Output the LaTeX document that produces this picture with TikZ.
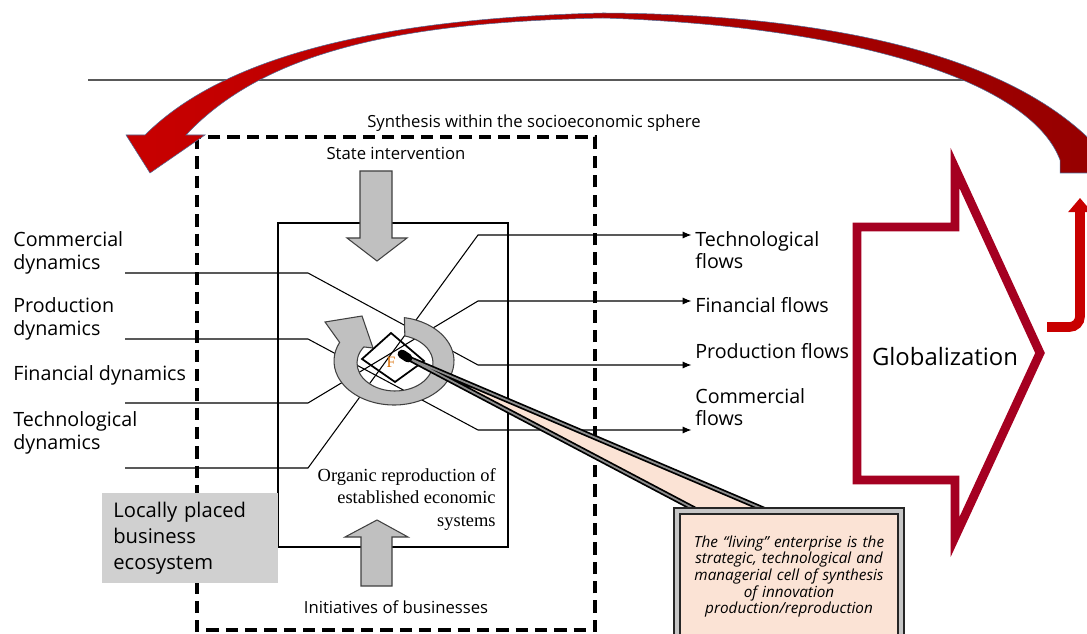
\documentclass[tikz,border=0pt]{standalone}
\usepackage{fontspec}
\setmainfont{Open Sans}
\newfontfamily\romanfont{Liberation Serif}
\usetikzlibrary{calc, arrows.meta}
\definecolor{globred}{HTML}{A50021}
\definecolor{arcred}{HTML}{C80000}
\definecolor{arcdark}{HTML}{960000}
\definecolor{arcedge}{HTML}{4F6B96}
\definecolor{cellfill}{HTML}{FBE3D5}
\definecolor{blockgray}{HTML}{C0C0C0}
\definecolor{ecogray}{HTML}{D0D0D0}
\tikzstyle{dynlabel} = [anchor=west, align=left, inner sep=0pt, font=\fontsize{11.2}{12.8}\selectfont]
\tikzstyle{smalltext} = [inner sep=0pt, font=\fontsize{9.5}{11}\selectfont]
\tikzstyle{flowarrow} = [line width=0.6pt, -{Latex[length=5pt,width=4pt]}, shorten >=2pt]
\tikzstyle{blockarrow} = [fill=blockgray, draw=black!75, line width=0.6pt]

\begin{document}
\begin{tikzpicture}[x=0.02cm, y=-0.02cm]
    \useasboundingbox (0,0) rectangle (1087,634);
    \clip (0,0) rectangle (1087,634);

    % horizon
    \coordinate (hl) at (88,80);
    \coordinate (hr) at (985,80);
    \draw [line width=0.9pt, black!65] (hl) -- (hr);

    % socioeconomic sphere and the reproduction box
    \draw [line width=2pt, dash pattern=on 7pt off 4pt] (197,137) rectangle (595,630);
    \draw [line width=0.6pt] (278,223) rectangle (508,547);

    \node (synth) [smalltext] at (534,123) {Synthesis within the socioeconomic sphere};
    \node (state) [smalltext] at (396,153) {State intervention};
    \node (init) [smalltext] at (396,607) {Initiatives of businesses};
    \node (organic) [anchor=north east, align=right, inner sep=0pt, font=\romanfont\fontsize{10.5}{12.75}\selectfont] at (496,468) {Organic reproduction of\\established economic\\systems};

    \node (cdyn) [dynlabel] at (13,253) {Commercial\\dynamics};
    \node (pdyn) [dynlabel] at (13,319) {Production\\dynamics};
    \node (fdyn) [dynlabel] at (13,375) {Financial dynamics};
    \node (tdyn) [dynlabel] at (13,433) {Technological\\dynamics};

    \node (tflow) [dynlabel] at (695,250) {Technological\\flows};
    \node (fflow) [dynlabel] at (695,305) {Financial flows};
    \node (pflow) [dynlabel] at (695,351) {Production flows};
    \node (cflow) [dynlabel] at (695,407) {Commercial\\flows};

    % gray block arrows
    \draw [blockarrow] (360,171) -- (392,171) -- (392,238) -- (407,238) -- (377,261) -- (347,238) -- (360,238) -- cycle;
    \draw [blockarrow] (361,586) -- (392,586) -- (392,537) -- (408,537) -- (377,520) -- (345,537) -- (361,537) -- cycle;

    % dynamics become flows
    \coordinate (a1) at (125,273); \coordinate (b1) at (308,273); \coordinate (e1) at (478,365);
    \coordinate (a2) at (125,339); \coordinate (b2) at (308,339); \coordinate (e2) at (478,430);
    \coordinate (a3) at (125,403); \coordinate (b3) at (308,403); \coordinate (e3) at (478,301);
    \coordinate (a4) at (125,468); \coordinate (b4) at (308,468); \coordinate (e4) at (478,235);
    \draw [flowarrow] (a1) -- (b1) -- (e1) -- (e1 -| pflow.west);
    \draw [flowarrow] (a2) -- (b2) -- (e2) -- (e2 -| cflow.west);
    \draw [flowarrow] (a3) -- (b3) -- (e3) -- (e3 -| fflow.west);
    \draw [flowarrow] (a4) -- (b4) -- (e4) -- (e4 -| tflow.west);

    % circular arrow round the cell
    \coordinate (ro) at (394,361);
    \coordinate (ri) at (395,363);
    \path [blockarrow] ($(ro)+(-80:60 and 44)$) arc [start angle=-80, end angle=205, x radius=60, y radius=44]
        -- (325,322) -- (362,316) -- (373,348) -- ($(ri)+(215:38 and 28)$)
        arc [start angle=215, end angle=-75, x radius=38, y radius=28] -- cycle;
    \draw [line width=1pt] (362,359) -- (391,333) -- (424,361) -- (395,382) -- cycle;
    \node (cellF) [inner sep=0pt, text=orange!85!black, font=\romanfont\fontsize{9}{9}\selectfont] at (391,362) {F};

    % callout
    \coordinate (pen) at (408,358);
    \draw [fill=cellfill, draw=black, double=black!45, double distance=1pt, line width=1pt] (pen) -- (700,512) -- (770,512) -- cycle;
    \draw [line width=5pt, line cap=round] (402,354) -- (pen);
    \node (cell) [anchor=north west, fill=cellfill, draw=black!85, double=gray!45, double distance=2pt, line width=1.2pt,
        inner sep=0pt, minimum height=2.62cm, text width=4.48cm, align=center,
        font=\itshape\fontsize{8.7}{9.5}\selectfont] at (676,510)
        {The “living” enterprise is the\\strategic, technological and\\managerial cell of synthesis\\of innovation\\production/reproduction};

    \node (eco) [anchor=north west, fill=ecogray, inner xsep=0.22cm, inner ysep=0pt, text width=3.08cm, minimum height=1.8cm,
        align=left, font=\fontsize{11.5}{14.7}\selectfont] at (102,493) {Locally placed\\business\\ecosystem};

    % globalization feedback
    \path [draw=arcedge, line width=0.3pt, left color=arcred, right color=arcdark]
        (186,135) -- (205,135) -- (150,173) -- (126,135) -- (145,135)
        .. controls (230,50) and (400,18) .. (603,13)
        .. controls (780,14) and (1000,40) .. (1100,150)
        -- (1100,173) -- (1060,173) -- (1060,160)
        .. controls (1030,80) and (850,26) .. (603,18)
        .. controls (420,22) and (270,45) .. (186,135) -- cycle;
    \coordinate (ub) at (1047,327);
    \draw [arcred, line width=5.5pt, rounded corners=6pt, -{Triangle[length=8pt,width=13pt]}] (ub) -- (1080,327) -- (1080,198);

    \draw [globred, line width=5pt, line join=miter] (857,227) -- (955,227) -- (955,168) -- (1040,353) -- (955,537) -- (955,480) -- (857,480) -- cycle;
    \node (glob) [inner sep=0pt, font=\fontsize{13.6}{15}\selectfont] at (945,357) {Globalization};
\end{tikzpicture}
\end{document}
